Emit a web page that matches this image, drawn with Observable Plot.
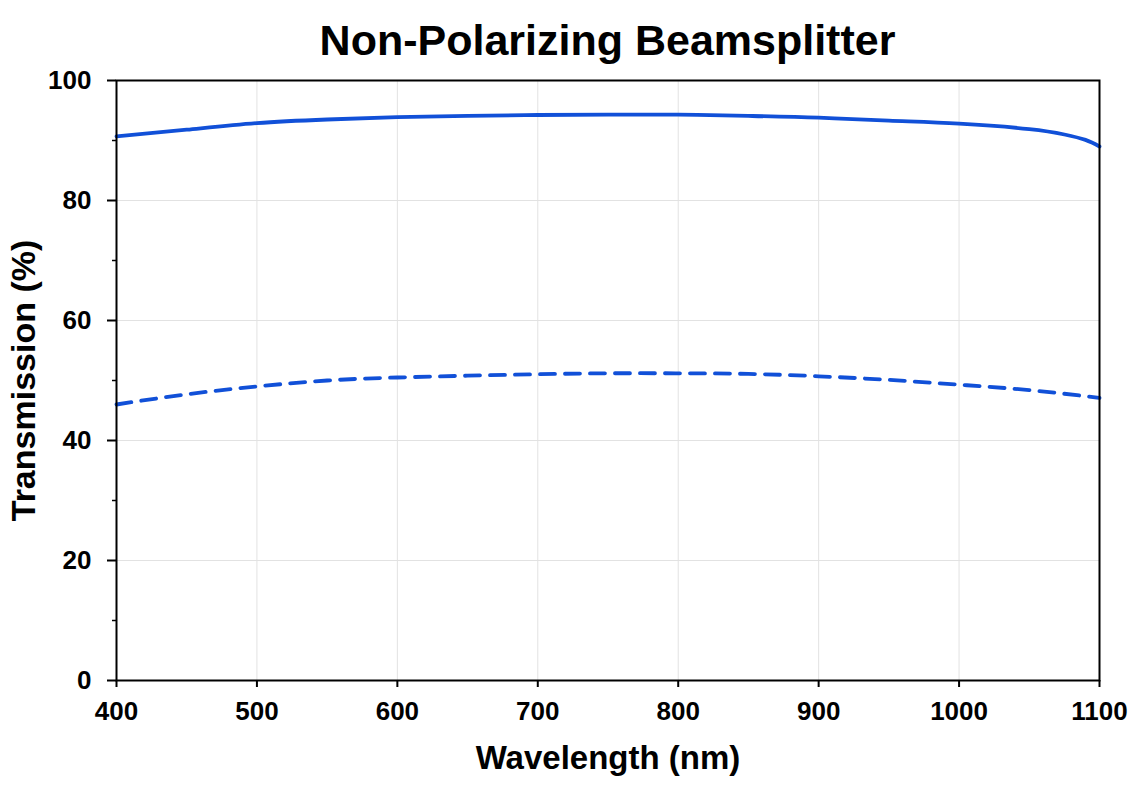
<!DOCTYPE html>
<html>
<head>
<meta charset="utf-8">
<script src="https://cdn.jsdelivr.net/npm/d3@7"></script>
<script src="https://cdn.jsdelivr.net/npm/@observablehq/plot@0.6"></script>
<style>
  body { margin: 0; background: #ffffff; font-family: "Liberation Sans", Arial, sans-serif; }
  #title { height: 60px; box-sizing: border-box; padding: 18px 38px 0 116px; text-align: center;
           font-size: 43px; font-weight: bold; line-height: 44px; color: #000; }
  svg { display: block; }
</style>
</head>
<body>
<div id="title">Non-Polarizing Beamsplitter</div>
<div id="chart"></div>
<script>
const wavelengths = [400, 450, 500, 550, 600, 650, 700, 750, 800, 850, 900, 950, 1000, 1050, 1075, 1090, 1100];
const solidT      = [90.7, 91.8, 92.9, 93.5, 93.9, 94.1, 94.25, 94.3, 94.3, 94.1, 93.8, 93.3, 92.8, 91.9, 91.0, 90.1, 89.0];
const dashedWl    = [400, 450, 500, 550, 600, 650, 700, 750, 800, 850, 900, 950, 1000, 1050, 1100];
const dashedT     = [46.0, 47.7, 49.0, 50.0, 50.5, 50.8, 51.05, 51.2, 51.2, 51.1, 50.7, 50.1, 49.3, 48.4, 47.1];
const xTicks = [400, 500, 600, 700, 800, 900, 1000, 1100];
const yTicks = [0, 20, 40, 60, 80, 100];
const yMinor = [10, 30, 50, 70, 90];

const solid = wavelengths.map((w, i) => ({w, t: solidT[i]}));
const dashed = dashedWl.map((w, i) => ({w, t: dashedT[i]}));

const blue = "#1150d8";
const plot = Plot.plot({
  width: 1137,
  height: 740,
  marginTop: 20,
  marginBottom: 120,
  marginLeft: 116,
  marginRight: 38,
  style: {fontFamily: "'Liberation Sans', Arial, sans-serif", fontWeight: "bold", color: "#000", background: "#fff", fontSize: "25px"},
  x: {domain: [400, 1100]},
  y: {domain: [0, 100]},
  marks: [
    Plot.gridX(xTicks, {stroke: "#e2e2e2", strokeOpacity: 1, strokeWidth: 1}),
    Plot.gridY(yTicks, {stroke: "#e2e2e2", strokeOpacity: 1, strokeWidth: 1}),
    Plot.line(solid, {x: "w", y: "t", stroke: blue, strokeWidth: 3.8, curve: "natural"}),
    Plot.line(dashed, {x: "w", y: "t", stroke: blue, strokeWidth: 3.8, strokeDasharray: "15,10", curve: "natural"}),
    Plot.frame({stroke: "#000", strokeWidth: 2}),
    Plot.axisY(yMinor, {tickSize: 4, text: null, label: null, strokeWidth: 1.5}),
    Plot.axisY(yTicks, {tickSize: 9, tickPadding: 16, fontSize: 25, strokeWidth: 2, tickFormat: d => String(d),
      label: "Transmission (%)", labelAnchor: "center", labelArrow: "none", labelOffset: 106}),
    Plot.axisX(xTicks, {tickSize: 7, tickPadding: 14, fontSize: 25, strokeWidth: 2, tickFormat: d => String(d),
      label: "Wavelength (nm)", labelAnchor: "center", labelArrow: "none", labelOffset: 88})
  ]
});
document.getElementById("chart").appendChild(plot);
plot.querySelectorAll("g[aria-label='x-axis tick label'], g[aria-label='y-axis tick label']").forEach(g => {
  g.setAttribute("font-size", "26");
  g.querySelectorAll("text").forEach(t => t.setAttribute("font-size", "26"));
});
plot.querySelectorAll("g[aria-label='x-axis label'] text").forEach(t => t.setAttribute("font-size", "33"));
plot.querySelectorAll("g[aria-label='y-axis label'] text").forEach(t => t.setAttribute("font-size", "34"));
plot.querySelectorAll("g[aria-label='x-axis label'], g[aria-label='y-axis label']").forEach(g => g.removeAttribute("font-size"));
</script>
</body>
</html>
